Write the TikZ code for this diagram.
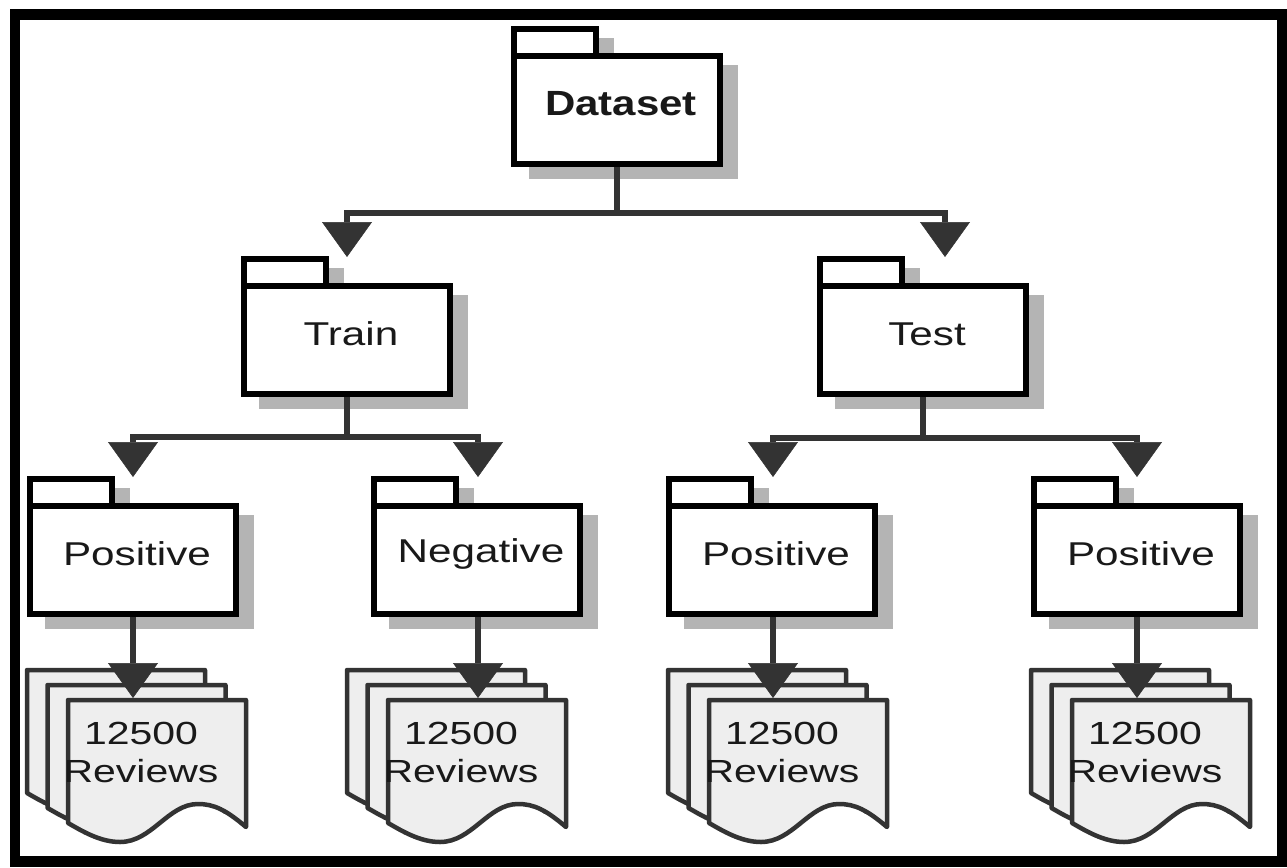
\documentclass[tikz,border=0pt]{standalone}
\usepackage{fontspec}
\setmainfont{Liberation Sans}[FakeStretch=1.28]
\newfontfamily\dsfont{Liberation Sans}[FakeStretch=1.2]
\usetikzlibrary{arrows.meta,calc}
\definecolor{conncol}{HTML}{333333}
\definecolor{shadowgray}{HTML}{B4B4B4}
\definecolor{docfill}{HTML}{EEEEEE}
\tikzset{
  body/.style={draw=black, line width=6pt, fill=white, minimum width=206pt, minimum height=108pt, inner sep=0pt},
  tabbox/.style={draw=black, line width=6pt, fill=white},
  lbl/.style={font=\fontsize{33}{38}\selectfont, text=black!90, inner sep=0pt},
  conn/.style={draw=conncol, line width=6pt, -{Triangle[length=35pt,width=50pt,line width=0.5pt]}},
  plainline/.style={draw=conncol, line width=6pt},
  docshape/.style={draw=conncol, fill=docfill, line width=4.5pt, line join=round},
  doctext/.style={font=\fontsize{32}{38}\selectfont, align=center, text=black!90, inner sep=0pt},
}
% name, centre x, body top y, label, arrow x
\newcommand\folderpkg[5]{%
  \fill[shadowgray] (#2-106+15,#3-27+12) rectangle (#2-106+88+15,#3+12);
  \fill[shadowgray] (#2-106+18,#3+12) rectangle (#2+106+15,#3+114+12);
  \draw[tabbox] (#2-106+3,#3-27+3) rectangle (#2-106+88-3,#3+3);
  \node[body] (#1) at (#2,#3+57) {};
  \node[lbl] (#1-lbl) at (#2+4,#3+51) {#4};
  \coordinate (#1-in) at (#5,#3-26);
}
\newcommand\docpage[2]{%
  \begin{scope}[shift={(#1,#2)}]
    \draw[docshape] (0,0) -- (178,0) -- (178,127)
      .. controls (158,110) and (146,104) .. (130,104)
      .. controls (100,104) and (84,142) .. (52,142)
      .. controls (32,142) and (14,131) .. (0,123) -- cycle;
  \end{scope}}
% name, left x, arrow x
\newcommand\docstack[3]{%
  \docpage{#2}{670}
  \docpage{#2+20.5}{685}
  \docpage{#2+41}{700}
  \node[doctext] (#1) at (#2+114,752) {12500\\Reviews};
  \coordinate (#1-in) at (#3,698);
}
\begin{document}
\begin{tikzpicture}[x=1pt,y=-1pt]
\useasboundingbox (0,0) rectangle (1287,867);

% packages
\folderpkg{dataset}{617}{53}{\dsfont\bfseries\fontsize{35}{40}\selectfont Dataset}{617}
\folderpkg{train}{347}{283}{Train}{347}
\folderpkg{test}{923}{283}{Test}{945}
\folderpkg{trpos}{133}{503}{Positive}{133}
\folderpkg{trneg}{477}{503}{Negative}{478}
\folderpkg{tepos}{772}{503}{Positive}{773}
\folderpkg{tepostwo}{1137}{503}{Positive}{1137}

% document stacks
\docstack{d1}{27}{133}
\docstack{d2}{347}{478}
\docstack{d3}{668}{773}
\docstack{d4}{1031}{1137}

% connectors
\coordinate (j0) at (617,213);
\draw[plainline] (dataset.south) -- (j0);
\draw[conn] (j0) -| (train-in);
\draw[conn] (j0) -| (test-in);

\coordinate (j1) at (347,437);
\draw[plainline] (train.south) -- (j1);
\draw[conn] (j1) -| (trpos-in);
\draw[conn] (j1) -| (trneg-in);

\coordinate (j2) at (923,438);
\draw[plainline] (test.south) -- (j2);
\draw[conn] (j2) -| (tepos-in);
\draw[conn] (j2) -| (tepostwo-in);

\draw[conn] (trpos.south) -- (d1-in);
\draw[conn] (trneg.south -| d2-in) -- (d2-in);
\draw[conn] (tepos.south -| d3-in) -- (d3-in);
\draw[conn] (tepostwo.south) -- (d4-in);

% outer frame
\draw[line width=10.5pt] (15,14.5) rectangle (1282,861.5);
\end{tikzpicture}
\end{document}
